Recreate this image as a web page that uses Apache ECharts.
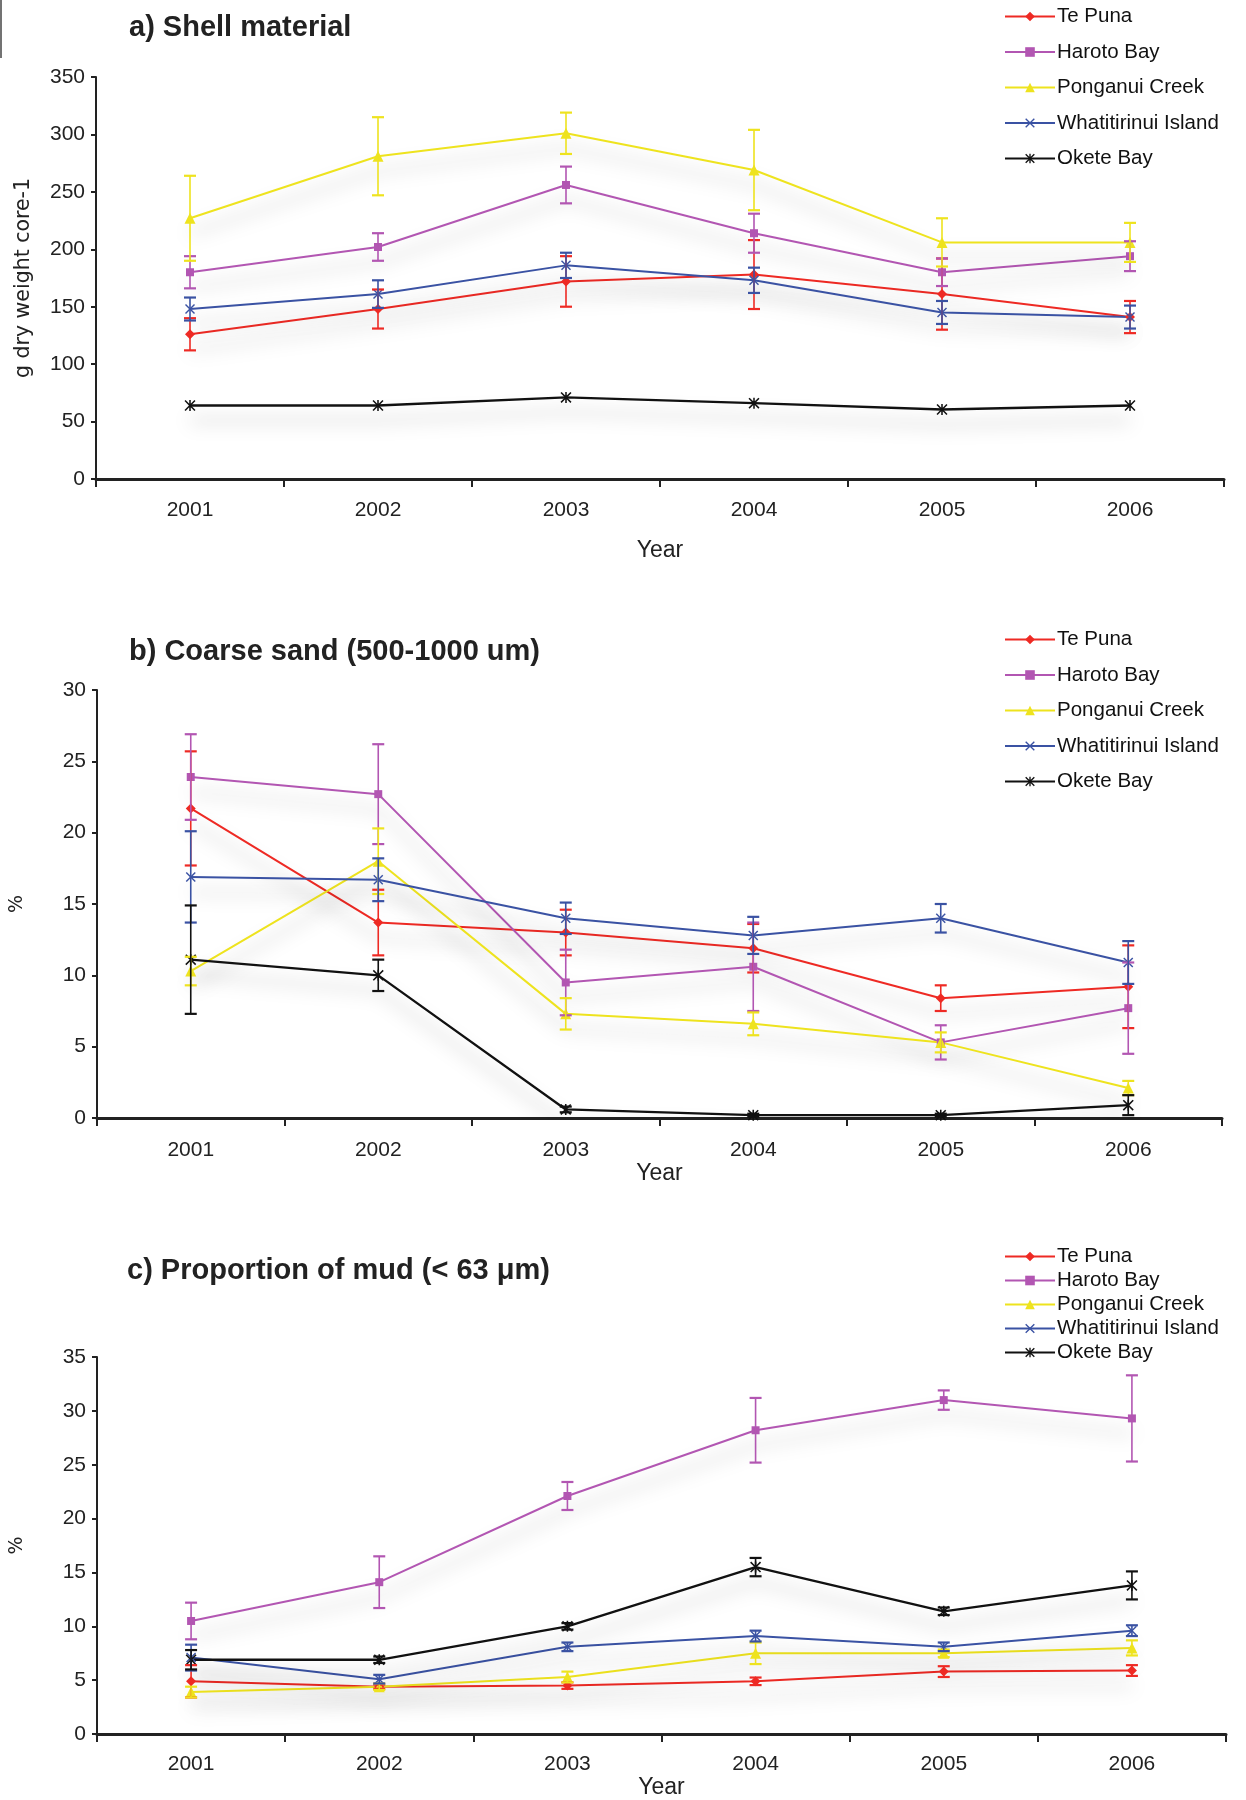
<!DOCTYPE html>
<html>
<head>
<meta charset="utf-8">
<script src="https://cdn.jsdelivr.net/npm/echarts@6/dist/echarts.min.js"></script>
<style>
html,body{margin:0;padding:0;background:#fff;}
#chart{width:1246px;height:1800px;}
</style>
</head>
<body>
<div id="chart"></div>
<script>
// ---------- DATA ----------
const years = ['2001', '2002', '2003', '2004', '2005', '2006'];
const sites = ['Te Puna', 'Haroto Bay', 'Ponganui Creek', 'Whatitirinui Island', 'Okete Bay'];

const titleA = 'a) Shell material';
const titleB = 'b) Coarse sand (500-1000 um)';
const titleC = 'c) Proportion of mud (< 63 \u03bcm)';
const yNameA = 'g dry weight core-1';
const yNameB = '%';
const yNameC = '%';
const xName = 'Year';

// a) Shell material (mean and +/- error)
const shellTePuna = [126, 148, 172, 178, 161, 141];
const shellTePunaErr = [14, 17, 22, 30, 31, 14];
const shellHaroto = [180, 202, 256, 214, 180, 194];
const shellHarotoErr = [14, 12, 16, 17, 12, 13];
const shellPonganui = [227, 281, 301, 269, 206, 206];
const shellPonganuiErr = [37, 34, 18, 35, 21, 17];
const shellWhati = [148, 161, 186, 173, 145, 141];
const shellWhatiErr = [10, 12, 11, 11, 10, 10];
const shellOkete = [64, 64, 71, 66, 60.5, 64];
const shellOketeErr = [0, 0, 0, 0, 0, 0];

// b) Coarse sand (%)
const sandTePuna = [21.7, 13.7, 13.0, 11.9, 8.4, 9.2];
const sandTePunaErr = [4.0, 2.3, 1.6, 1.7, 0.9, 2.9];
const sandHaroto = [23.9, 22.7, 9.5, 10.6, 5.3, 7.7];
const sandHarotoErr = [3.0, 3.5, 2.3, 3.1, 1.2, 3.2];
const sandPonganui = [10.3, 18.0, 7.3, 6.6, 5.3, 2.1];
const sandPonganuiErr = [1.0, 2.3, 1.1, 0.8, 0.7, 0.5];
const sandWhati = [16.9, 16.7, 14.0, 12.8, 14.0, 10.9];
const sandWhatiErr = [3.2, 1.5, 1.1, 1.3, 1.0, 1.5];
const sandOkete = [11.1, 10.0, 0.6, 0.2, 0.2, 0.9];
const sandOketeErr = [3.8, 1.1, 0.2, 0.1, 0.1, 0.7];

// c) Proportion of mud (%)
const mudTePuna = [4.9, 4.4, 4.5, 4.9, 5.8, 5.9];
const mudTePunaErr = [1.5, 0.2, 0.3, 0.35, 0.5, 0.5];
const mudHaroto = [10.5, 14.1, 22.1, 28.2, 31.0, 29.3];
const mudHarotoErr = [1.7, 2.4, 1.3, 3.0, 0.9, 4.0];
const mudPonganui = [3.9, 4.4, 5.3, 7.5, 7.5, 8.0];
const mudPonganuiErr = [0.5, 0.3, 0.5, 1.0, 0.35, 0.7];
const mudWhati = [7.1, 5.1, 8.1, 9.1, 8.1, 9.6];
const mudWhatiErr = [1.2, 0.4, 0.4, 0.5, 0.4, 0.5];
const mudOkete = [6.9, 6.9, 10.0, 15.5, 11.4, 13.8];
const mudOketeErr = [0.9, 0.3, 0.3, 0.85, 0.35, 1.3];

// ---------- STYLE ----------
const colors = ['#ee2a24', '#b256b2', '#eee31e', '#3a52a3', '#111111'];
const xShape = 'path://M0,1 L1,0 L5,4 L9,0 L10,1 L6,5 L10,9 L9,10 L5,6 L1,10 L0,9 L4,5 Z';
const starShape = 'path://M0,1 L1,0 L5,4 L9,0 L10,1 L6,5 L10,9 L9,10 L5,6 L1,10 L0,9 L4,5 Z M4.3,0 L5.7,0 L5.7,10 L4.3,10 Z';
const symbols = ['diamond', 'rect', 'triangle', xShape, starShape];
const symbolSizes = [10, 8, 11, 10, 11];

const condFont = "'Liberation Sans Narrow', 'Liberation Sans', sans-serif";

const panels = [
  {title: titleA, yName: yNameA, max: 350, interval: 50,
   vals: [shellTePuna, shellHaroto, shellPonganui, shellWhati, shellOkete],
   errs: [shellTePunaErr, shellHarotoErr, shellPonganuiErr, shellWhatiErr, shellOketeErr],
   grid: {left: 96, top: 77, width: 1128, height: 402},
   titlePos: {left: 124, top: 8},
   legendTop: 1, legendGap: 14.5, labelMargin: 21, nameGap: 60, yNameGap: 62, yNameSize: 20.5},
  {title: titleB, yName: yNameB, max: 30, interval: 5,
   vals: [sandTePuna, sandHaroto, sandPonganui, sandWhati, sandOkete],
   errs: [sandTePunaErr, sandHarotoErr, sandPonganuiErr, sandWhatiErr, sandOketeErr],
   grid: {left: 96, top: 690, width: 1126, height: 428},
   titlePos: {left: 124, top: 632},
   legendTop: 624, legendGap: 14.5, labelMargin: 22, nameGap: 41, yNameGap: 70, yNameSize: 19},
  {title: titleC, yName: yNameC, max: 35, interval: 5,
   vals: [mudTePuna, mudHaroto, mudPonganui, mudWhati, mudOkete],
   errs: [mudTePunaErr, mudHarotoErr, mudPonganuiErr, mudWhatiErr, mudOketeErr],
   grid: {left: 96, top: 1357, width: 1130, height: 387},
   titlePos: {left: 122, top: 1251},
   legendTop: 1241, legendGap: 3, labelMargin: 20, nameGap: 34, yNameGap: 70, yNameSize: 19}
];

const option = {
  backgroundColor: '#fff',
  animation: false,
  title: [], legend: [], grid: [], xAxis: [], yAxis: [], series: [],
  graphic: [{type: 'line', shape: {x1: 1, y1: 0, x2: 1, y2: 58}, style: {stroke: '#444', lineWidth: 1.5}}]
};

panels.forEach((p, gi) => {
  option.title.push({text: p.title, left: p.titlePos.left, top: p.titlePos.top,
    textStyle: {fontFamily: condFont, fontWeight: 'bold', fontSize: 29, color: '#222'}});
  option.legend.push({
    data: sites, orient: 'vertical', left: 999, top: p.legendTop,
    itemWidth: 50, itemHeight: 12, itemGap: p.legendGap,
    textStyle: {fontFamily: condFont, fontSize: 20.5, color: '#111', lineHeight: 20, padding: [0, 0, 0, -3]}
  });
  option.grid.push(Object.assign({containLabel: false}, p.grid));
  option.xAxis.push({
    type: 'category', data: years, gridIndex: gi, boundaryGap: true,
    name: xName, nameLocation: 'middle', nameGap: p.nameGap,
    nameTextStyle: {fontFamily: condFont, fontSize: 23, color: '#222'},
    axisLine: {lineStyle: {color: '#222', width: 3}},
    axisTick: {show: true, length: 8, lineStyle: {color: '#222', width: 2}},
    axisLabel: {fontFamily: condFont, fontSize: 21, color: '#222', margin: p.labelMargin},
    splitLine: {show: false}
  });
  option.yAxis.push({
    type: 'value', gridIndex: gi, min: 0, max: p.max, interval: p.interval,
    name: p.yName, nameLocation: 'middle', nameGap: p.yNameGap,
    nameTextStyle: {fontFamily: "'DejaVu Sans', sans-serif", fontSize: p.yNameSize, color: '#222'},
    axisLine: {show: true, lineStyle: {color: '#222', width: 2}},
    axisTick: {show: true, length: 5, lineStyle: {color: '#222', width: 2}},
    axisLabel: {fontFamily: condFont, fontSize: 21, color: '#222', margin: 11},
    splitLine: {show: false}
  });
  sites.forEach((s, si) => {
    const col = colors[si];
    option.series.push({
      type: 'line', name: s, xAxisIndex: gi, yAxisIndex: gi,
      data: p.vals[si], symbol: symbols[si], symbolSize: symbolSizes[si],
      itemStyle: {color: col},
      lineStyle: {color: col, width: si === 4 ? 2.3 : 2,
        shadowColor: 'rgba(0,0,0,0.35)', shadowBlur: 18, shadowOffsetY: 15},
      z: 3
    });
    option.series.push({
      type: 'custom', name: s + ' error', xAxisIndex: gi, yAxisIndex: gi,
      data: years.map((y, i) => [i, p.vals[si][i], p.errs[si][i]]),
      z: 4,
      renderItem: function (params, api) {
        const x = api.value(0), v = api.value(1), e = api.value(2);
        if (!e) return null;
        const top = api.coord([x, v + e]);
        const bot = api.coord([x, Math.max(0, v - e)]);
        const hw = 6;
        const st = {stroke: col, lineWidth: 1.6};
        return {type: 'group', children: [
          {type: 'line', shape: {x1: top[0], y1: top[1], x2: bot[0], y2: bot[1]}, style: st},
          {type: 'line', shape: {x1: top[0] - hw, y1: top[1], x2: top[0] + hw, y2: top[1]}, style: {stroke: col, lineWidth: 2.2}},
          {type: 'line', shape: {x1: bot[0] - hw, y1: bot[1], x2: bot[0] + hw, y2: bot[1]}, style: {stroke: col, lineWidth: 2.2}}
        ]};
      }
    });
  });
});

const chart = echarts.init(document.getElementById('chart'), null, {renderer: 'canvas'});
chart.setOption(option);
</script>
</body>
</html>
